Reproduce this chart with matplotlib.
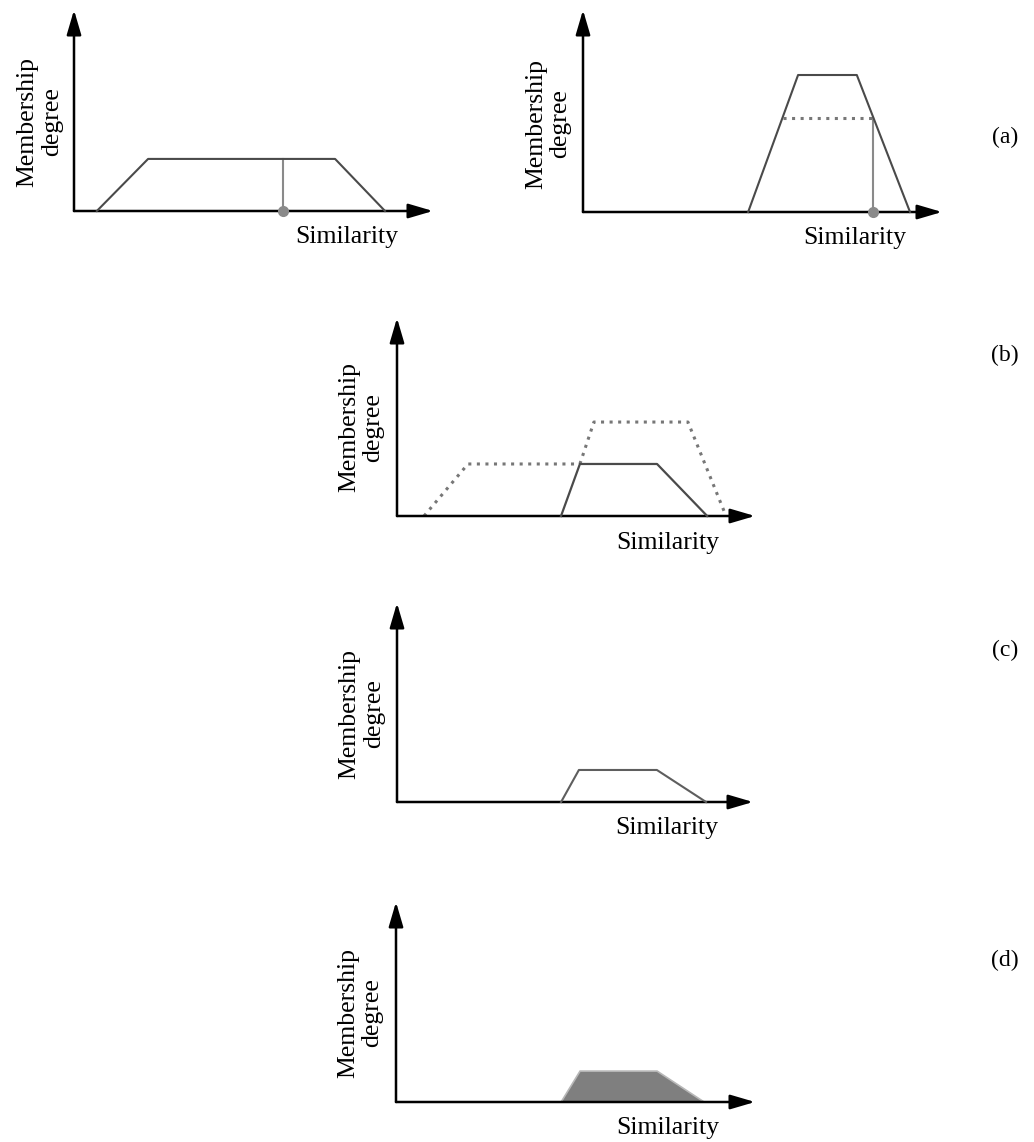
import matplotlib
matplotlib.use("Agg")
import matplotlib.pyplot as plt

plt.rcParams["font.family"] = ["Liberation Serif", "DejaVu Serif"]

# values in axis units (0..1.1 on both axes, arrow tips at 1.1)
a1_x = [0.07, 0.227, 0.80, 0.953]
a1_y = [0.0, 0.285, 0.285, 0.0]
a1_input = 0.64

a2_x = [0.506, 0.659, 0.839, 1.002]
a2_y = [0.0, 0.746, 0.746, 0.0]
a2_input = 0.888
a2_cut = 0.512
a2_cut_start = 0.613

b_dot1_x = [0.083, 0.218, 0.562]
b_dot1_y = [0.0, 0.289, 0.289]
b_dot2_x = [0.562, 0.605, 0.894, 1.011]
b_dot2_y = [0.289, 0.522, 0.522, 0.0]
b_x = [0.504, 0.562, 0.799, 0.953]
b_y = [0.0, 0.289, 0.289, 0.0]

c_x = [0.507, 0.562, 0.803, 0.955]
c_y = [0.0, 0.177, 0.177, 0.0]

d_x = [0.506, 0.564, 0.800, 0.944]
d_y = [0.0, 0.17, 0.17, 0.0]

panel_labels = ["(a)", "(b)", "(c)", "(d)"]

W, H = 1034, 1142
FS = 18.5
LINE = "#4a4a4a"
DOT = "#777777"
dotted = (0, (1.0, 1.8))


def make_axes(fig, x0, y0, tip, top):
    # pixel box -> figure fraction
    ax = fig.add_axes([x0 / W, 1 - y0 / H, (tip - x0) / W, (y0 - top) / H])
    ax.set_xlim(0, 1.1)
    ax.set_ylim(0, 1.1)
    ax.axis("off")
    arrow = dict(arrowstyle="-|>,head_length=0.75,head_width=0.22", lw=1.8, color="black",
                 mutation_scale=20, shrinkA=0, shrinkB=0)
    ax.annotate("", xy=(1.1, 0), xytext=(0, 0), arrowprops=arrow, annotation_clip=False)
    ax.annotate("", xy=(0, 1.1), xytext=(0, 0), arrowprops=arrow, annotation_clip=False)
    return ax


def labels(ax, sim_xy, mem_xy):
    ax.text(sim_xy[0], sim_xy[1], "Similarity", transform=ax.transAxes, fontsize=FS,
            ha="center", va="center")
    ax.text(mem_xy[0], mem_xy[1], "Membership\ndegree", transform=ax.transAxes, fontsize=FS,
            ha="center", va="center", rotation=90, multialignment="center", linespacing=1.15)


fig = plt.figure(figsize=(W / 100, H / 100), dpi=100)

# (a) left
ax = make_axes(fig, 74, 211, 433, 10)
ax.plot(a1_x, a1_y, color=LINE, lw=1.5, clip_on=False, zorder=3)
ax.plot([a1_input, a1_input], [0, a1_y[1]], color="#8a8a8a", lw=1.5, zorder=2)
ax.plot([a1_input], [0], "o", color="#8a8a8a", ms=7, zorder=4, clip_on=False)
labels(ax, (0.760, -0.129), (-0.095, 0.443))

# (a) right
ax = make_axes(fig, 583, 212, 942, 10)
ax.plot(a2_x, a2_y, color=LINE, lw=1.5, clip_on=False, zorder=3)
ax.plot([a2_cut_start, a2_input], [a2_cut, a2_cut], color=DOT, lw=2.2, ls=dotted, dash_capstyle="butt")
ax.plot([a2_input, a2_input], [0, a2_cut], color="#8a8a8a", lw=1.5, zorder=2)
ax.plot([a2_input], [0], "o", color="#8a8a8a", ms=7, zorder=4, clip_on=False)
labels(ax, (0.758, -0.129), (-0.097, 0.436))

# (b)
ax = make_axes(fig, 397, 516, 755, 318)
ax.plot(b_dot1_x, b_dot1_y, color=DOT, lw=2.2, ls=dotted, dash_capstyle="butt", clip_on=False)
ax.plot(b_dot2_x, b_dot2_y, color=DOT, lw=2.2, ls=dotted, dash_capstyle="butt", clip_on=False)
ax.plot(b_x, b_y, color=LINE, lw=1.6, clip_on=False, zorder=3)
labels(ax, (0.757, -0.136), (-0.10, 0.449))

# (c)
ax = make_axes(fig, 397, 802, 753, 603)
ax.plot(c_x, c_y, color="#5e5e5e", lw=1.5, clip_on=False, zorder=3)
labels(ax, (0.758, -0.131), (-0.10, 0.442))

# (d)
ax = make_axes(fig, 396, 1102, 755, 902)
ax.fill(d_x, d_y, facecolor="#7f7f7f", edgecolor="#b8b8b8", lw=1.2, zorder=1)
labels(ax, (0.758, -0.13), (-0.10, 0.445))

for lab, ypx in zip(panel_labels, [137, 355, 650, 960]):
    fig.text(1005 / W, 1 - ypx / H, lab, fontsize=17, ha="center", va="center")

fig.savefig("out.png", dpi=100)
